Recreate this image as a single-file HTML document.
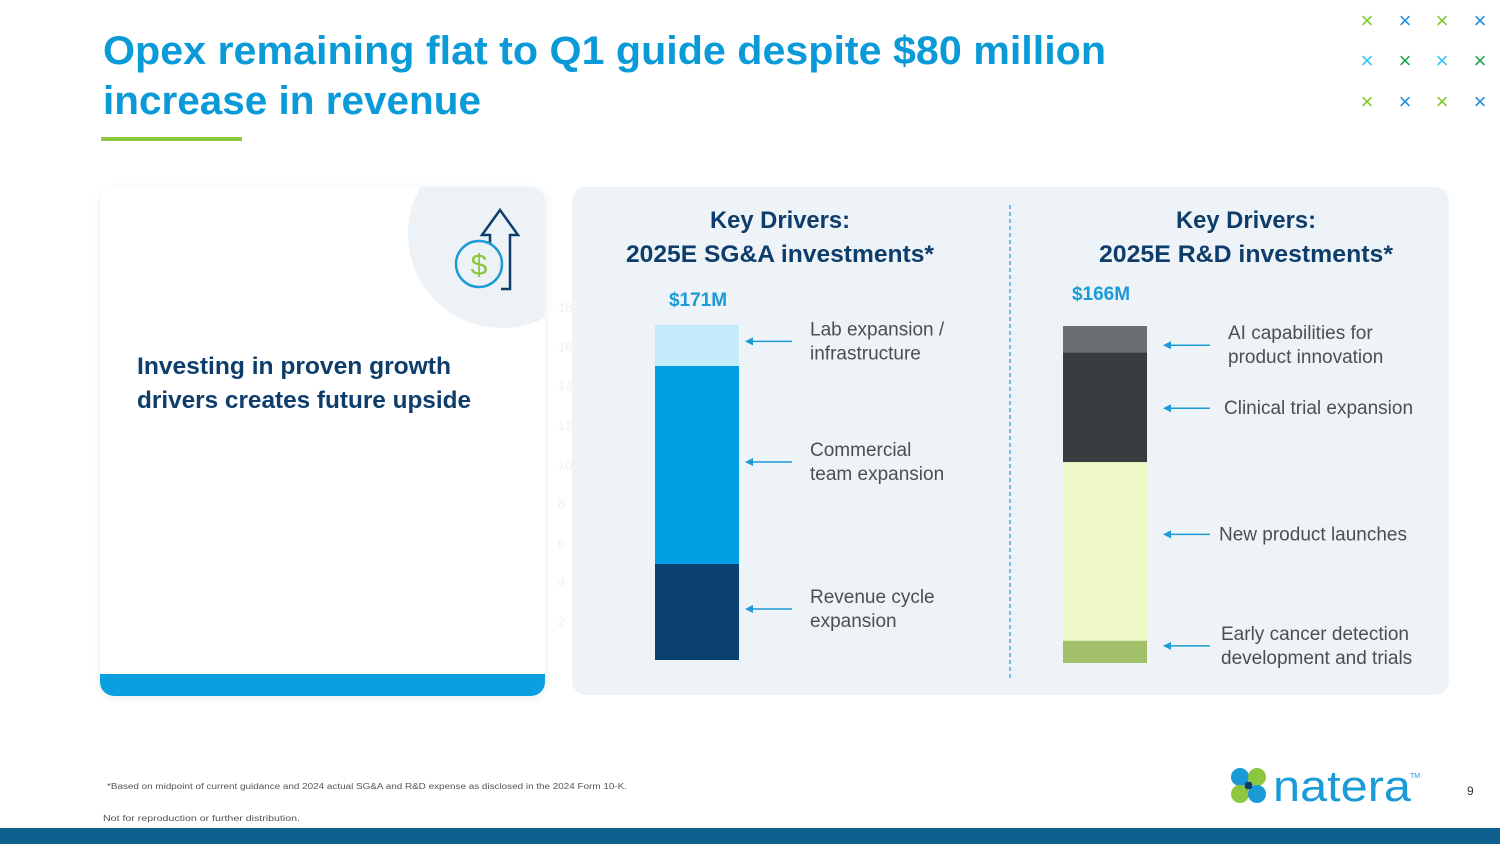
<!DOCTYPE html>
<html><head><meta charset="utf-8"><title>Opex slide</title>
<style>
html,body{margin:0;padding:0;background:#fff;}
svg{display:block;}
text{font-family:"Liberation Sans",sans-serif;}
</style></head>
<body>
<svg id="slide" width="1500" height="844" viewBox="0 0 1500 844" xmlns="http://www.w3.org/2000/svg">
  <defs>
    <filter id="sh" x="-5%" y="-5%" width="110%" height="115%"><feDropShadow dx="0" dy="2" stdDeviation="4" flood-color="#000" flood-opacity="0.08"/></filter>
    <clipPath id="cardclip"><rect x="100" y="187" width="445" height="509" rx="14"/></clipPath>
  </defs>
  <rect width="1500" height="844" fill="#fff"/>
  <text x="103" y="64" font-size="40" font-weight="bold" fill="#0a9ad8" textLength="1003" lengthAdjust="spacingAndGlyphs">Opex remaining flat to Q1 guide despite $80 million</text>
  <text x="103" y="114" font-size="40" font-weight="bold" fill="#0a9ad8" textLength="378" lengthAdjust="spacingAndGlyphs">increase in revenue</text>
  <rect x="101" y="137" width="141" height="4" fill="#8dc63f"/>

  <g id="xmarks" font-size="22" text-anchor="middle">
    <text x="1367" y="28" fill="#7cc82a">×</text><text x="1405" y="28" fill="#1f8de0">×</text><text x="1442" y="28" fill="#7cc82a">×</text><text x="1480" y="28" fill="#1f8de0">×</text>
    <text x="1367" y="68" fill="#2fc5ef">×</text><text x="1405" y="68" fill="#22a34a">×</text><text x="1442" y="68" fill="#2fc5ef">×</text><text x="1480" y="68" fill="#22a34a">×</text>
    <text x="1367" y="109" fill="#7cc82a">×</text><text x="1405" y="109" fill="#1f8de0">×</text><text x="1442" y="109" fill="#7cc82a">×</text><text x="1480" y="109" fill="#1f8de0">×</text>
  </g>

  <g id="ticks"></g>

  <g>
    <rect x="100" y="187" width="445" height="509" rx="14" fill="#fff" filter="url(#sh)"/>
    <g clip-path="url(#cardclip)">
      <circle cx="502" cy="234" r="94" fill="#edf2f6"/>
      <rect x="100" y="674" width="445" height="22" fill="#0aa0e0"/>
    </g>
    <g fill="none" stroke-width="2.5">
      <path d="M501 289 H510 V235 H518 L500 210 L482 235 H490 V243" stroke="#0e3d6b"/>
      <circle cx="479" cy="264" r="23" stroke="#1a9ad6"/>
      <text x="479" y="275" font-size="30" text-anchor="middle" fill="#8dc63f" stroke="none">$</text>
    </g>
    <text x="137" y="374" font-size="24" font-weight="bold" fill="#0e3d6b" textLength="314" lengthAdjust="spacingAndGlyphs">Investing in proven growth</text>
    <text x="137" y="408" font-size="24" font-weight="bold" fill="#0e3d6b" textLength="334" lengthAdjust="spacingAndGlyphs">drivers creates future upside</text>
  </g>

  <rect x="572" y="187" width="877" height="508" rx="14" fill="#eef3f7"/>
  <line x1="1010" y1="205" x2="1010" y2="678" stroke="#1a9ad6" stroke-width="1.2" stroke-dasharray="4,3"/>

  <text x="780" y="228" font-size="24" font-weight="bold" fill="#0e3d6b" text-anchor="middle" textLength="140" lengthAdjust="spacingAndGlyphs">Key Drivers:</text>
  <text x="780" y="262" font-size="24" font-weight="bold" fill="#0e3d6b" text-anchor="middle" textLength="308" lengthAdjust="spacingAndGlyphs">2025E SG&amp;A investments*</text>
  <text x="1246" y="228" font-size="24" font-weight="bold" fill="#0e3d6b" text-anchor="middle" textLength="140" lengthAdjust="spacingAndGlyphs">Key Drivers:</text>
  <text x="1246" y="262" font-size="24" font-weight="bold" fill="#0e3d6b" text-anchor="middle" textLength="294" lengthAdjust="spacingAndGlyphs">2025E R&amp;D investments*</text>

  <g id="sga-chart"></g>
  <g id="rd-chart"></g>

  <text x="107" y="789" font-size="8" fill="#555" textLength="520" lengthAdjust="spacingAndGlyphs">*Based on midpoint of current guidance and 2024 actual SG&amp;A and R&amp;D expense as disclosed in the 2024 Form 10-K.</text>
  <text x="103" y="821" font-size="8.5" fill="#555" textLength="197" lengthAdjust="spacingAndGlyphs">Not for reproduction or further distribution.</text>
  <g>
    <circle cx="1240" cy="777" r="9" fill="#1a9ad6"/><circle cx="1257" cy="777" r="9" fill="#8dc63f"/>
    <circle cx="1240" cy="794" r="9" fill="#8dc63f"/><circle cx="1257" cy="794" r="9" fill="#1a9ad6"/>
    <circle cx="1248.5" cy="785.5" r="4" fill="#0e3d6b"/>
    <text x="1273" y="801" font-size="44" fill="#1a9ad6" textLength="138" lengthAdjust="spacingAndGlyphs">natera</text>
    <text x="1410" y="778" font-size="7" fill="#1a9ad6">TM</text>
  </g>
  <text x="1467" y="795" font-size="12" fill="#333">9</text>
  <rect x="0" y="828" width="1500" height="16" fill="#0e5e8e"/>
</svg>
<script>
// SG&A data ($M), bottom to top
const sgaCategories = ["Revenue cycle expansion", "Commercial team expansion", "Lab expansion / infrastructure"];
const sgaValues = [49, 101, 21];
const sgaTotalLabel = "$171M";
// R&D data ($M), bottom to top
const rdCategories = ["Early cancer detection development and trials", "New product launches", "Clinical trial expansion", "AI capabilities for product innovation"];
const rdValues = [11, 88, 54, 13];
const rdTotalLabel = "$166M";
const tickLabels = [2, 4, 6, 8, 10, 12, 14, 16, 18];

const NS = "http://www.w3.org/2000/svg";
function ySga(v){ return 660 - v * 1.96; }
function yRd(v){ return 663 - v * 2.03; }
function mk(tag, attrs, parent){ const e = document.createElementNS(NS, tag); for (const k in attrs) e.setAttribute(k, attrs[k]); parent.appendChild(e); return e; }

const tg = document.getElementById('ticks');
tickLabels.forEach(t => {
  const e = mk('text', {x: 558, y: ySga(t*10) + 5, 'font-size': 13, fill: '#eef0f2'}, tg);
  
  
  e.textContent = t;
});

function drawBar(g, values, colors, yf, x, w, labels, labelX, labelOffsets, arrowGap, total, totalX, totalY){
  let acc = 0;
  values.forEach((v, i) => {
    const top = yf(acc + v), bot = yf(acc);
    const r = mk('rect', {x: x, y: top, width: w, height: bot - top, fill: colors[i]}, g);
    
    
    const mid = (top + bot) / 2 + labelOffsets[i];
    const hx = x + w + arrowGap;
    const ln = mk('line', {x1: hx + 6, y1: mid, x2: hx + 47, y2: mid, stroke: '#1a9ad6', 'stroke-width': 1.5}, g);
    
    
    const hd = mk('path', {d: `M${hx} ${mid} l8 -4 v8 z`, fill: '#1a9ad6'}, g);
    
    
    const lines = labels[i];
    const t = mk('text', {x: labelX[i], y: mid - (lines.length - 1) * 12 + 6, 'font-size': 19, fill: '#4a4f54'}, g);
    
    
    lines.forEach((s, j) => { const ts = mk('tspan', {x: labelX[i], dy: j ? 24 : 0}, t); ts.textContent = s; });
    acc += v;
  });
  const tt = mk('text', {x: totalX, y: totalY, 'font-size': 19, 'font-weight': 'bold', fill: '#1a9ad6', 'text-anchor': 'middle'}, g);
  
  
  tt.textContent = total;
}

drawBar(document.getElementById('sga-chart'), sgaValues, ['#0b4170', '#009fe3', '#c6ecfb'], ySga, 655, 84,
  [["Revenue cycle", "expansion"], ["Commercial", "team expansion"], ["Lab expansion /", "infrastructure"]],
  [810, 810, 810], [-3, -3, -4], 6, sgaTotalLabel, 698, 306);

drawBar(document.getElementById('rd-chart'), rdValues, ['#a2bf6a', '#eef7c6', '#393d3f', '#6b6f71'], yRd, 1063, 84,
  [["Early cancer detection", "development and trials"], ["New product launches"], ["Clinical trial expansion"], ["AI capabilities for", "product innovation"]],
  [1221, 1219, 1224, 1228], [-6, -17, 1, 6], 16, rdTotalLabel, 1101, 300);
</script>
</body></html>
